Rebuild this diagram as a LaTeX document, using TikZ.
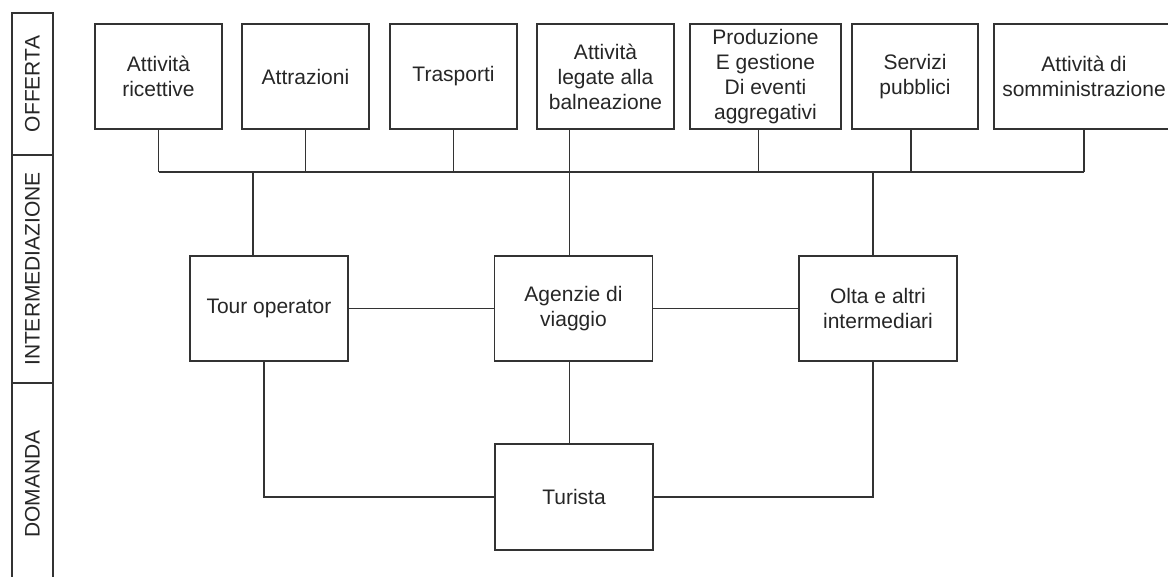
\documentclass[tikz,border=0pt]{standalone}
\usepackage{fontspec}
\setmainfont{Liberation Sans}
\usetikzlibrary{positioning,calc}

\begin{document}
\begin{tikzpicture}[x=0.5pt,y=-0.5pt,
  every node/.style={font=\fontsize{10.5}{12.5}\selectfont,text=black!85},
  box/.style={draw=black!80,line width=0.9pt,align=center,inner sep=0pt,minimum height=52.5pt},
  band/.style={draw=black!80,line width=0.9pt,rotate=90,inner sep=0pt,minimum height=20.5pt},
  link/.style={draw=black!80,line width=0.9pt}]
\useasboundingbox (0,0) rectangle (1168,577);
% fasce a sinistra
\node[band,minimum width=71pt] (L1) at (32.5,84) {OFFERTA};
\node[band,minimum width=114pt] (L2) at (32.5,269) {INTERMEDIAZIONE};
\node[band,minimum width=101pt] (L3) at (32.5,484) {DOMANDA};
% offerta
\node[box,minimum width=63.5pt] (O1) at (158.5,76.5) {Attività\\ricettive};
\node[box,minimum width=63.5pt] (O2) at (305.5,76.5) {Attrazioni};
\node[box,minimum width=63.5pt] (O3) at (453.5,76.5) {Trasporti};
\node[box,minimum width=68.5pt] (O4) at (605.5,76.5) {Attività\\legate alla\\balneazione};
\node[box,minimum width=75.5pt] (O5) at (765.5,76.5) {Produzione\\E gestione\\Di eventi\\aggregativi};
\node[box,minimum width=63pt] (O6) at (915,76.5) {Servizi\\pubblici};
\node[box,minimum width=90pt] (O7) at (1084,76.5) {Attività di\\somministrazione};
% intermediazione
\node[box,minimum width=79pt] (I1) at (269,308.5) {Tour operator};
\node[box,minimum width=79pt] (I2) at (573.5,308.5) {Agenzie di\\viaggio};
\node[box,minimum width=79pt] (I3) at (878,308.5) {Olta e altri\\intermediari};
% domanda
\node[box,minimum width=79pt,minimum height=53pt] (D) at (574,497) {Turista};
% collegamenti
\coordinate (bus) at (0,172);
\foreach \n/\dx in {O1/0,O2/0,O3/0,O5/-7,O6/-4,O7/0} {
  \coordinate (s) at ($(\n.south)+(\dx,0)$);
  \draw[link] (s) -- (s |- bus);
}
\draw[link] (O1.south |- bus) -- (O7.south |- bus);
\coordinate (t1) at ($(I1.north)+(-16,0)$);
\coordinate (t2) at ($(I2.north)+(-4,0)$);
\coordinate (t3) at ($(I3.north)+(-5,0)$);
\draw[link] (t1) -- (t1 |- bus);
\draw[link] (t2 |- O4.south) -- (t2);
\draw[link] (t3) -- (t3 |- bus);
\draw[link] (I1) -- (I2);
\draw[link] (I2) -- (I3);
\coordinate (b1) at ($(I1.south)+(-5,0)$);
\coordinate (b3) at ($(I3.south)+(-5,0)$);
\draw[link] (b1) |- (D.west);
\draw[link] (t2 |- I2.south) -- (t2 |- D.north);
\draw[link] (b3) |- (D.east);
\end{tikzpicture}
\end{document}
